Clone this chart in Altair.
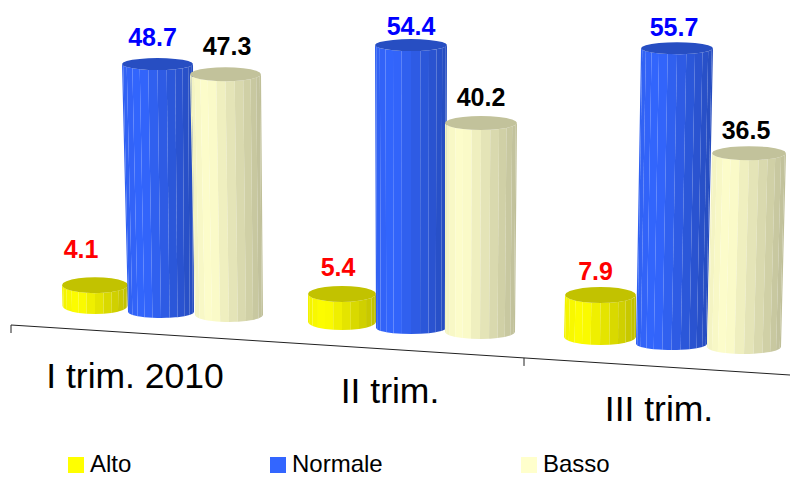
import math
import altair as alt
import pandas as pd

# Chart values
categories = ["I trim. 2010", "II trim.", "III trim."]
series = ["Alto", "Normale", "Basso"]
alto = [4.1, 5.4, 7.9]
normale = [48.7, 54.4, 55.7]
basso = [47.3, 40.2, 36.5]
values = [alto, normale, basso]

# Series styling
base_rgb = [(255, 255, 0), (51, 102, 255), (255, 255, 204)]
label_colors = ["#ff0000", "#0000ff", "#000000"]
legend_fill = ["#ffff00", "#3366ff", "#ffffcc"]

# Perspective layout: one row per category, one entry per series
px_per_unit = [5.09, 5.2, 5.31]
floor_y = [[306, 312, 315], [322, 328, 332], [337, 344, 347]]
floor_cx = [[95, 161, 229], [342, 411, 480], [600, 671.5, 744]]
floor_rx = [[32.5, 33, 34], [34, 35, 35], [36, 35.5, 37]]
roof_cx = [[95, 157.5, 225.5], [342, 411, 481], [600.5, 677, 749]]
roof_rx = [[33, 35.5, 35.5], [34, 36, 36], [35.5, 36, 37]]
ry_by_series = [8, 6, 7]
label_gap = [[19, 12, 12], [10, 4, 10], [7, 6, 7]]
label_dx = [[-14, -5, 1.5], [-4, 0, 0], [-5, -3, -3]]

FACETS = 12
SIDES = 2 * FACETS


def shade(rgb, f):
    return "#%02x%02x%02x" % tuple(min(255, int(round(c * f))) for c in rgb)


def side_shade(u):
    # Lit slightly left of centre, falling away toward the right edge
    if u < 0.25:
        return 0.95 + 0.05 * u / 0.25
    return 1.0 - 0.25 * (u - 0.25) / 0.75


def area_rows(points, fill, piece):
    # Turn a convex polygon into x / y / y2 rows for a vertical area mark
    xs = sorted({round(p[0], 3) for p in points})
    rows = []
    n = len(points)
    for x in xs:
        hits = []
        for i in range(n):
            (x0, y0), (x1, y1) = points[i], points[(i + 1) % n]
            lo, hi = min(x0, x1), max(x0, x1)
            if lo - 0.002 <= x <= hi + 0.002:
                if abs(x1 - x0) < 1e-6:
                    hits += [y0, y1]
                else:
                    t = min(1, max(0, (x - x0) / (x1 - x0)))
                    hits.append(y0 + t * (y1 - y0))
        rows.append(dict(x=x, y=min(hits), y2=max(hits), fill=fill, piece=piece))
    return rows


rows = []
labels = []
for g, cat in enumerate(categories):
    for s, name in enumerate(series):
        value = values[s][g]
        ry = ry_by_series[s]
        by = floor_y[g][s]
        ty = by - value * px_per_unit[g]
        bcx, brx = floor_cx[g][s], floor_rx[g][s]
        tcx, trx = roof_cx[g][s], roof_rx[g][s]
        for k in range(FACETS):
            a0 = math.pi * k / FACETS
            a1 = math.pi * (k + 1) / FACETS
            quad = [
                (tcx - trx * math.cos(a0), ty + ry * math.sin(a0)),
                (tcx - trx * math.cos(a1), ty + ry * math.sin(a1)),
                (bcx - brx * math.cos(a1), by + ry * math.sin(a1)),
                (bcx - brx * math.cos(a0), by + ry * math.sin(a0)),
            ]
            u = (0.5 - 0.5 * math.cos((a0 + a1) / 2))
            rows += area_rows(quad, shade(base_rgb[s], side_shade(u)), f"{g}-{s}-side{k:02d}")
        cap = [
            (tcx - trx * math.cos(2 * math.pi * k / SIDES),
             ty + ry * math.sin(2 * math.pi * k / SIDES))
            for k in range(SIDES)
        ]
        rows += area_rows(cap, shade(base_rgb[s], 0.76), f"{g}-{s}-cap")
        labels.append(dict(
            x=tcx + label_dx[g][s],
            y=ty - ry - label_gap[g][s],
            text=f"{value:.1f}",
            color=label_colors[s],
        ))

x_scale = alt.Scale(domain=[0, 790], range=[0, 790], nice=False, zero=False)
y_scale = alt.Scale(domain=[0, 477], range=[0, 477], nice=False, zero=False)
X = lambda f="x": alt.X(f"{f}:Q", scale=x_scale, axis=None)
Y = lambda f="y": alt.Y(f"{f}:Q", scale=y_scale, axis=None)

# Slanted category axis with its ticks
axis_start, axis_end = (11, 325), (790, 375)
tick_x = [11, 524]
slope = (axis_end[1] - axis_start[1]) / (axis_end[0] - axis_start[0])
axis_rows = [dict(x=axis_start[0], y=axis_start[1], x2=axis_end[0], y2=axis_end[1])]
for tx in tick_x:
    ty_ = axis_start[1] + slope * (tx - axis_start[0])
    axis_rows.append(dict(x=tx, y=ty_, x2=tx, y2=ty_ + 8))
axis_layer = alt.Chart(pd.DataFrame(axis_rows)).mark_rule(color="#222222", strokeWidth=1).encode(
    x=X(), y=Y(), x2="x2:Q", y2="y2:Q"
)

bars = alt.Chart(pd.DataFrame(rows)).mark_area(interpolate="linear", stroke=None).encode(
    x=X(),
    y=Y(),
    y2="y2:Q",
    color=alt.Color("fill:N", scale=None),
    detail="piece:N",
)

value_labels = alt.Chart(pd.DataFrame(labels)).mark_text(
    font="Liberation Sans", fontWeight="bold", fontSize=25, align="center", baseline="alphabetic"
).encode(x=X(), y=Y(), text="text:N", color=alt.Color("color:N", scale=None))

cat_x = [135, 390, 659]
cat_y = [388, 403, 421]
cat_labels = alt.Chart(pd.DataFrame(dict(x=cat_x, y=cat_y, text=categories))).mark_text(
    font="Liberation Sans", fontSize=35.5, align="center", baseline="alphabetic", color="#000000"
).encode(x=X(), y=Y(), text="text:N")

legend_x = [68, 270, 521]
legend_top, legend_bottom = 457, 473
legend_size = 16
legend_df = pd.DataFrame(dict(
    x=legend_x,
    x2=[v + legend_size for v in legend_x],
    y=[legend_top] * 3,
    y2=[legend_bottom] * 3,
    tx=[v + 22 for v in legend_x],
    ty=[472] * 3,
    name=series,
    fill=legend_fill,
))
legend_marks = alt.Chart(legend_df).mark_rect().encode(
    x=X(), x2="x2:Q", y=Y(), y2="y2:Q", color=alt.Color("fill:N", scale=None)
)
legend_text = alt.Chart(legend_df).mark_text(
    font="Liberation Sans", fontSize=24, align="left", baseline="alphabetic", color="#000000"
).encode(x=X("tx"), y=Y("ty"), text="name:N")

chart = (
    alt.layer(axis_layer, bars, value_labels, cat_labels, legend_marks, legend_text)
    .properties(width=790, height=477, padding=0, autosize=alt.AutoSizeParams(type="none"),
                background="#ffffff")
    .configure_view(stroke=None)
)

chart.save("out.html", embed_options={"renderer": "svg", "actions": False})
